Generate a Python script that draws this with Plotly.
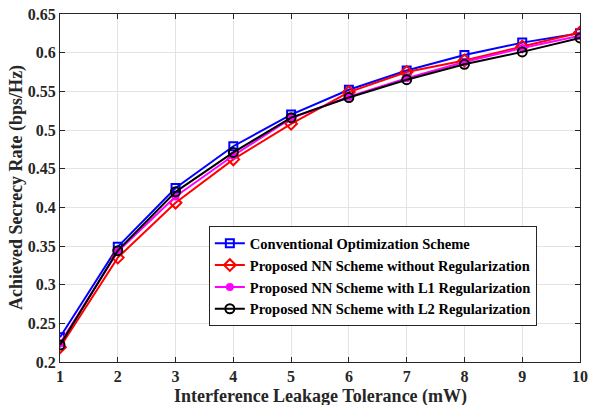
import plotly.graph_objects as go

x_vals = [1, 2, 3, 4, 5, 6, 7, 8, 9, 10]
conventional = [0.232, 0.349, 0.425, 0.479, 0.520, 0.552, 0.577, 0.597, 0.613, 0.625]
nn_no_reg = [0.219, 0.335, 0.406, 0.462, 0.508, 0.549, 0.575, 0.590, 0.608, 0.626]
nn_l1 = [0.224, 0.343, 0.414, 0.467, 0.515, 0.543, 0.567, 0.588, 0.606, 0.622]
nn_l2 = [0.222, 0.344, 0.420, 0.471, 0.516, 0.542, 0.565, 0.585, 0.601, 0.619]
y_ticks = [0.2, 0.25, 0.3, 0.35, 0.4, 0.45, 0.5, 0.55, 0.6, 0.65]

names = [
    "Conventional Optimization Scheme",
    "Proposed NN Scheme without Regularization",
    "Proposed NN Scheme with L1 Regularization",
    "Proposed NN Scheme with L2 Regularization",
]
series = [conventional, nn_no_reg, nn_l1, nn_l2]
colors = ["#0000ff", "#ff0000", "#ff00ff", "#000000"]
symbols = ["square-open", "diamond-open", "circle", "circle-open"]
sizes = [8, 9, 6, 9]

FONT = "Liberation Serif"

fig = go.Figure()
for name, ys, c, s, sz in zip(names, series, colors, symbols, sizes):
    fig.add_trace(go.Scatter(
        x=x_vals, y=ys, name=name, mode="lines+markers",
        line=dict(color=c, width=2),
        marker=dict(symbol=s, size=sz, color=c, line=dict(color=c, width=2)),
    ))

axis_common = dict(
    showline=True, linecolor="#262626", linewidth=1, mirror="ticks",
    ticks="inside", ticklen=5, tickcolor="#262626",
    showgrid=True, gridcolor="#e3e3e3", gridwidth=1, zeroline=False,
    tickfont=dict(family=FONT, size=16, color="#262626"),
    automargin=False, ticklabeloverflow="allow",
)

fig.update_layout(
    width=589, height=405, autosize=False,
    margin=dict(l=60, r=9, t=14, b=43, autoexpand=False),
    paper_bgcolor="white", plot_bgcolor="white",
    font=dict(family=FONT, color="#262626"),
    xaxis=dict(range=[1, 10], tickvals=x_vals, ticktext=["<b>%d</b>" % v for v in x_vals],
               **axis_common),
    yaxis=dict(range=[0.2, 0.65], tickvals=y_ticks,
               ticktext=["<b>%g</b>" % v for v in y_ticks],
               **axis_common),
    legend=dict(
        x=0.917, y=0.39, xanchor="right", yanchor="top",
        bgcolor="white", bordercolor="#262626", borderwidth=1,
        font=dict(family=FONT, size=14.5, color="#000000", weight="bold"),
        itemwidth=30, tracegroupgap=0,
    ),
    showlegend=True,
    annotations=[
        dict(text="<b>Interference Leakage Tolerance (mW)</b>", xref="paper", yref="paper",
             x=0.5, y=0, xanchor="center", yanchor="middle", yshift=-34, showarrow=False,
             font=dict(family=FONT, size=18, color="#262626")),
        dict(text="<b>Achieved Secrecy Rate (bps/Hz)</b>", xref="paper", yref="paper",
             x=0, y=0.5, xanchor="center", yanchor="middle", xshift=-44, textangle=-90,
             showarrow=False, font=dict(family=FONT, size=18, color="#262626")),
    ],
)

fig.write_html("out.html", config={"displayModeBar": False},
               post_script="document.body.style.margin='0';")
